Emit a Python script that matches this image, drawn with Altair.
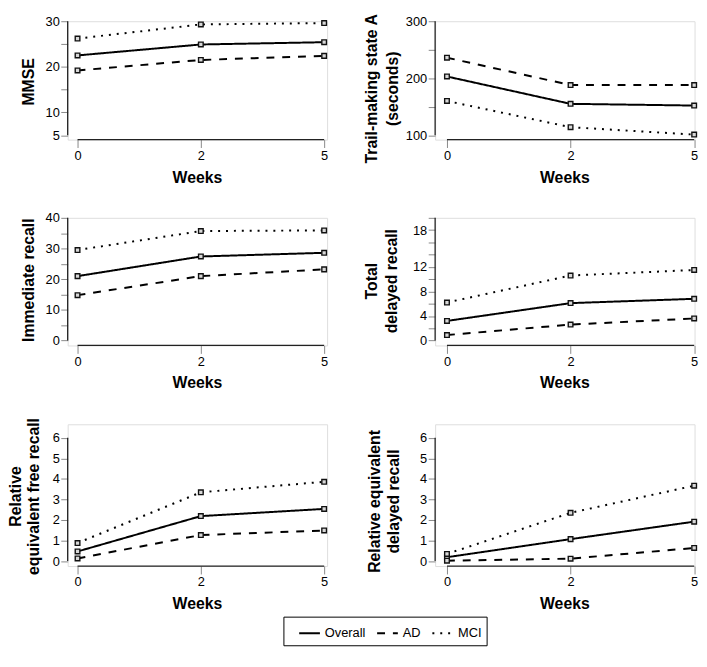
import altair as alt
import pandas as pd

weeks = ["0", "2", "5"]
groups = ["Overall", "AD", "MCI"]
dashes = [[1, 0], [8, 8], [2, 6]]

mmse_overall = [22.5, 24.9, 25.4]
mmse_ad = [19.2, 21.5, 22.4]
mmse_mci = [26.2, 29.3, 29.6]

trail_overall = [203, 155, 152]
trail_ad = [236, 188, 188]
trail_mci = [160, 114, 101]

imm_overall = [21.0, 27.4, 28.6]
imm_ad = [14.8, 21.0, 23.2]
imm_mci = [29.5, 35.7, 35.9]

tdr_overall = [3.2, 6.1, 6.8]
tdr_ad = [0.9, 2.6, 3.6]
tdr_mci = [6.2, 10.6, 11.5]

refr_overall = [0.47, 2.19, 2.54]
refr_ad = [0.13, 1.27, 1.49]
refr_mci = [0.88, 3.35, 3.86]

redr_overall = [0.19, 1.07, 1.92]
redr_ad = [0.02, 0.12, 0.64]
redr_mci = [0.35, 2.35, 3.67]

FONT = "Liberation Sans"
AXIS_COLOR = "#222222"

panels_def = [
    dict(title=["MMSE"], series=[mmse_overall, mmse_ad, mmse_mci], domain=[5, 30],
         ticks=[5, 10, 15, 20, 25, 30], labels=[5, 10, 20, 30], col=0, row=0,
         tx=-31.7, ty=61, lh=20),
    dict(title=["Trail-making state A", "(seconds)"], series=[trail_overall, trail_ad, trail_mci],
         domain=[100, 300], ticks=[100, 150, 200, 250, 300], labels=[100, 200, 300], col=1, row=0,
         tx=-56, ty=68, lh=21),
    dict(title=["Immediate recall"], series=[imm_overall, imm_ad, imm_mci], domain=[0, 40],
         ticks=[0, 5, 10, 15, 20, 25, 30, 35, 40], labels=[0, 10, 20, 30, 40], col=0, row=1,
         tx=-31.7, ty=62.7, lh=20),
    dict(title=["Total", "delayed recall"], series=[tdr_overall, tdr_ad, tdr_mci], domain=[0, 20],
         ticks=[0, 2, 4, 6, 8, 10, 12, 14, 16, 18, 20], labels=[0, 4, 8, 12, 18], col=1, row=1,
         tx=-56, ty=63.7, lh=20),
    dict(title=["Relative", "equivalent free recall"], series=[refr_overall, refr_ad, refr_mci],
         domain=[0, 6], ticks=[0, 1, 2, 3, 4, 5, 6], labels=[0, 1, 2, 3, 4, 5, 6], col=0, row=2,
         tx=-45.2, ty=72.7, lh=19),
    dict(title=["Relative equivalent", "delayed recall"], series=[redr_overall, redr_ad, redr_mci],
         domain=[0, 6], ticks=[0, 1, 2, 3, 4, 5, 6], labels=[0, 1, 2, 3, 4, 5, 6], col=1, row=2,
         tx=-53.6, ty=77.7, lh=19),
]

row_heights = [120, 129.4, 143.7]
row_yrange = [[115.5, 0], [124.4, 0], [138.7, 13.7]]
col_xrange = [[10, 260], [12, 262.6]]
WIDTH = 263

dash_scale = alt.Scale(domain=groups, range=dashes)

panels = []
for i, p in enumerate(panels_def):
    rows = []
    for g, vals in zip(groups, p["series"]):
        for w, v in zip(weeks, vals):
            rows.append({"Week": w, "Group": g, "Value": v})
    df = pd.DataFrame(rows)
    H = row_heights[p["row"]]

    label_list = "[" + ",".join(str(v) for v in p["labels"]) + "]"
    xenc = alt.X(
        "Week:O", sort=weeks,
        scale=alt.Scale(type="point", domain=weeks, range=col_xrange[p["col"]], padding=0),
        axis=alt.Axis(title="Weeks", labelAngle=0, tickSize=8, labelPadding=2, grid=False,
                      domain=False, titleX=131, titleY=43, titleBaseline="alphabetic",
                      titleFontSize=16, titleFontWeight="bold", labelFontSize=13),
    )
    yenc = alt.Y(
        "Value:Q",
        scale=alt.Scale(domain=p["domain"], range=row_yrange[p["row"]], nice=False, zero=False),
        axis=alt.Axis(values=p["ticks"],
                      labelExpr=f"indexof({label_list}, datum.value) >= 0 ? datum.label : ''",
                      title=p["title"], titleAngle=270, titleBaseline="bottom", titleAlign="center",
                      titleX=p["tx"], titleY=p["ty"], titleLineHeight=p["lh"],
                      titleFontSize=16, titleFontWeight="bold", labelFontSize=13, domain=False,
                      tickSize=7, labelPadding=1.5, labelOverlap=False, labelFlush=False, grid=False),
    )
    if i == 4:
        legend = alt.Legend(orient="none", legendX=218.7, legendY=195, direction="horizontal",
                            title=None, symbolType="stroke", symbolSize=441, symbolStrokeWidth=2,
                            symbolStrokeColor="black", symbolOffset=10, labelFontSize=13,
                            labelFont=FONT, labelColor="black", padding=5, columnPadding=0,
                            labelOffset=4, strokeColor="black", fillColor="white")
    else:
        legend = None

    line = alt.Chart(df).mark_line(color="black", strokeWidth=2).encode(
        x=xenc, y=yenc,
        strokeDash=alt.StrokeDash("Group:N", scale=dash_scale, legend=legend),
    )
    pts = alt.Chart(df).mark_point(shape="square", filled=True, size=22, fill="#d8d8d8",
                                   stroke="#111111", strokeWidth=1.4, opacity=1).encode(
        x=xenc, y=yenc, detail="Group:N",
    )
    # axis lines (R style: spanning only the tick range)
    y_axis_df = pd.DataFrame({"Value": p["domain"]})
    y_line = alt.Chart(y_axis_df).mark_line(color=AXIS_COLOR, strokeWidth=1.3).encode(
        x=alt.value(0), y=yenc,
    )
    x_axis_df = pd.DataFrame({"Week": [weeks[0]], "WeekEnd": [weeks[-1]]})
    x_line = alt.Chart(x_axis_df).mark_rule(color=AXIS_COLOR, strokeWidth=1.3).encode(
        x=xenc, x2="WeekEnd:O", y=alt.value(H),
    )
    panels.append(alt.layer(y_line, x_line, line, pts).properties(width=WIDTH, height=H))

chart = alt.concat(*panels, columns=2, spacing={"row": 79.3, "column": 109.5}, bounds="flush").resolve_legend(
    strokeDash="independent"
).properties(
    padding={"left": -1.5, "top": 0, "right": -1, "bottom": 0}
).configure_view(stroke=None).configure_axis(
    labelFont=FONT, titleFont=FONT, labelColor="#111111", titleColor="black",
    tickColor=AXIS_COLOR, tickWidth=1.2,
).configure(font=FONT)

chart.save("out.html", embed_options={"renderer": "svg", "actions": False})
